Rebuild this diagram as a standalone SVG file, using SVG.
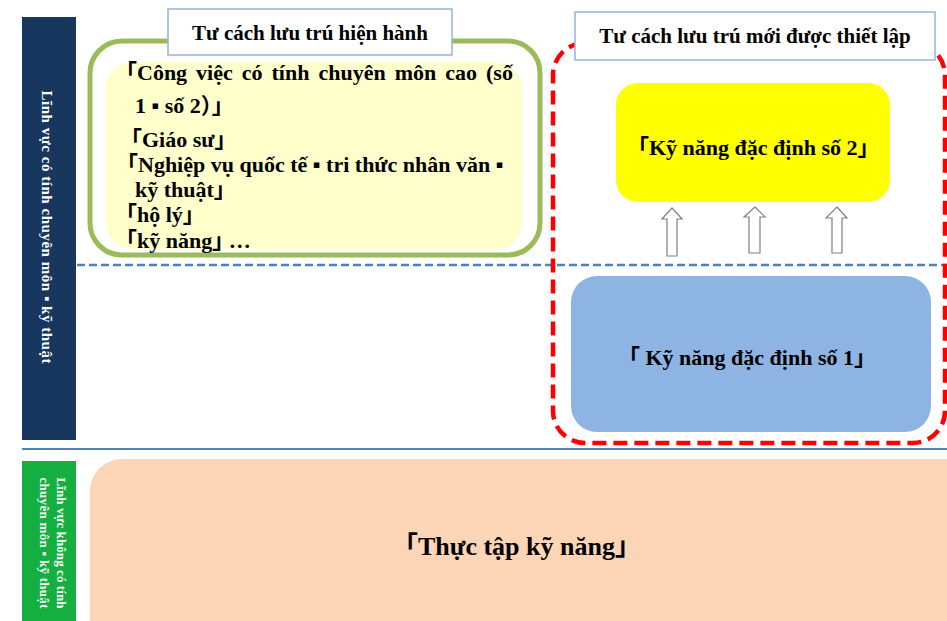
<svg xmlns="http://www.w3.org/2000/svg" width="947" height="621" viewBox="0 0 947 621">
<style>
text{font-family:"Liberation Serif","Noto Sans CJK JP",serif;font-weight:bold;fill:#000;font-feature-settings:"halt";}
.side{fill:#fff;}
.body{font-size:22px;}
.title{font-size:21px;text-anchor:middle;}
.tbox{fill:#fff;stroke:#95B3D7;stroke-width:1.5;}
.arrow{fill:#fff;stroke:#7F7F7F;stroke-width:1.2;}
</style>
<rect width="947" height="621" fill="#fff"/>
<g id="sidebar-specialized">
<rect x="22" y="17" width="54" height="423" fill="#17375E"/>
<text class="side" font-size="15" text-anchor="middle" textLength="273" lengthAdjust="spacing" transform="translate(42,227) rotate(90)">Lĩnh vực có tính chuyên môn ▪ kỹ thuật</text>
</g>
<g id="separators">
<line x1="77" y1="265" x2="947" y2="265" stroke="#4F81BD" stroke-width="2.5" stroke-dasharray="8,4"/>
<line x1="22" y1="449" x2="947" y2="449" stroke="#4F81BD" stroke-width="2"/>
</g>
<g id="current-status">
<rect x="90" y="41" width="450" height="214" rx="32" fill="#fff" stroke="#9BBB59" stroke-width="5"/>
<rect x="106" y="62" width="416" height="187" rx="26" fill="#FFFFCC"/>
<text class="body" x="126" y="80" word-spacing="3.5">「Công việc có tính chuyên môn cao (số</text>
<text class="body" x="135" y="113">1 ▪ số 2）」</text>
<text class="body" x="131" y="147">「Giáo sư」</text>
<text class="body" x="127" y="172">「Nghiệp vụ quốc tế ▪ tri thức nhân văn ▪</text>
<text class="body" x="135" y="197">kỹ thuật」</text>
<text class="body" x="126" y="222">「hộ lý」</text>
<text class="body" x="126" y="248">「kỹ năng」 …</text>
</g>
<g id="current-title">
<rect class="tbox" x="168" y="9" width="284" height="46"/>
<text class="title" x="310" y="40">Tư cách lưu trú hiện hành</text>
</g>
<g id="new-status">
<rect x="553" y="43" width="392" height="400" rx="32" fill="none" stroke="#FF0000" stroke-width="4.5" stroke-dasharray="14,7"/>
</g>
<g id="new-title">
<rect class="tbox" x="575" y="12" width="360" height="48"/>
<text class="title" x="755" y="43">Tư cách lưu trú mới được thiết lập</text>
</g>
<g id="ssw2">
<rect x="616" y="83" width="274" height="119" rx="22" fill="#FFFF00"/>
<text class="body" x="638" y="155">「Kỹ năng đặc định số 2」</text>
</g>
<g id="connectors">
<path class="arrow" d="M672,208 L682,219 L677,219 L677,256 L667,256 L667,219 L662,219 Z"/>
<path class="arrow" d="M755,207 L765,217 L760,217 L760,253 L749,253 L749,217 L744,217 Z"/>
<path class="arrow" d="M837,207 L847,218 L842,218 L842,253 L832,253 L832,218 L826,218 Z"/>
</g>
<g id="ssw1">
<rect x="571" y="276" width="360" height="156" rx="26" fill="#8DB4E2"/>
<text class="body" x="629" y="365">「 Kỹ năng đặc định số 1」</text>
</g>
<g id="sidebar-nonspecialized">
<rect x="22" y="461" width="54" height="160" fill="#14AF40"/>
<text class="side" font-size="13" text-anchor="middle" textLength="131" lengthAdjust="spacing" transform="translate(57,543) rotate(90)">Lĩnh vực không có tính</text>
<text class="side" font-size="13" text-anchor="middle" textLength="131" lengthAdjust="spacing" transform="translate(40,543) rotate(90)">chuyên môn ▪ kỹ thuật</text>
</g>
<g id="technical-intern">
<rect x="90" y="459" width="890" height="200" rx="32" fill="#FBD5B5"/>
<text x="405" y="555" font-size="26">「Thực tập kỹ năng」</text>
</g>
</svg>
